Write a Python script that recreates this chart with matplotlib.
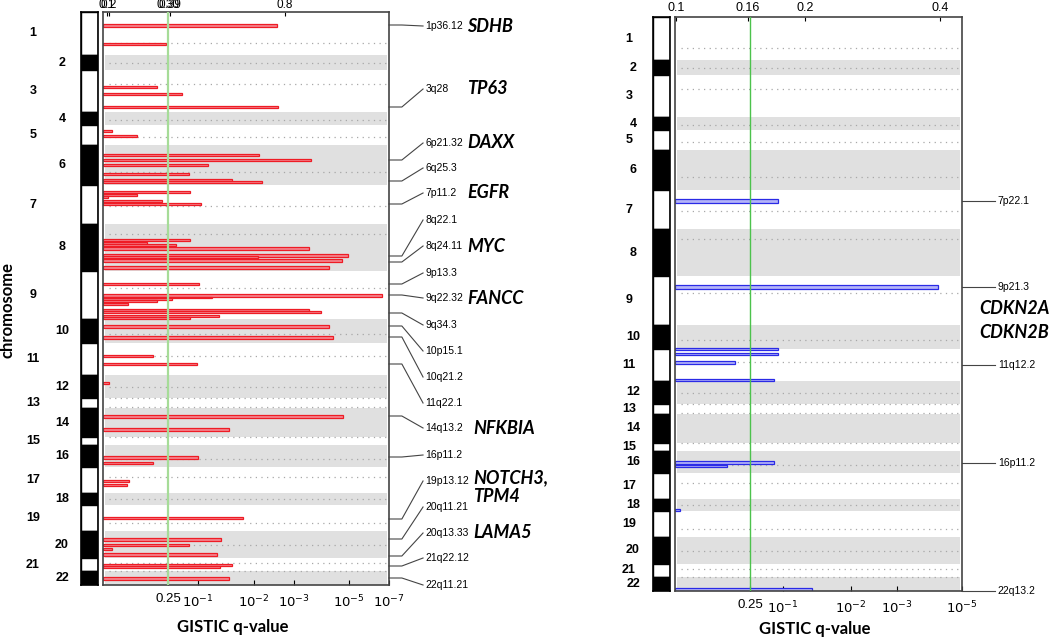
import matplotlib
matplotlib.use('Agg')
import matplotlib.pyplot as plt
from matplotlib.transforms import blended_transform_factory

# chromosome layout (genome units, 0 = top of the panel)
chrom_names = [str(i) for i in range(1, 23)]
chrom_start = [0, 43, 58, 100, 113, 133, 173, 212, 259, 307, 331,
               363, 386, 396, 425, 433, 455, 481, 493, 519, 546, 559]
genome_end = 573
centromeres = [31, 51, 72, 108, 125, 160, 194, 222, 276, 322, 344,
               375, 386, 395, 425, 447, 465, 487, 511, 533, 551, 559]

# amplification peaks (left panel): position, score (axis fraction), thickness
amp_pos = [13, 32, 75, 82, 95, 119, 124, 143, 148, 153, 162, 168, 170,
           180, 183, 185, 189, 192, 228, 231, 233, 236, 243, 245, 248, 255,
           272, 283, 285, 287, 289, 292, 298, 300, 304, 306, 314, 325,
           344, 352, 371, 404, 417, 445, 451, 469, 473, 506, 527, 533,
           537, 542, 553, 555, 566]
amp_score = [0.608, 0.22, 0.189, 0.276, 0.612, 0.031, 0.119, 0.545, 0.727,
             0.367, 0.30, 0.451, 0.556, 0.304, 0.119, 0.017, 0.206, 0.342,
             0.304, 0.154, 0.255, 0.72, 0.857, 0.542, 0.836, 0.79, 0.336,
             0.975, 0.38, 0.241, 0.19, 0.087, 0.72, 0.762, 0.406, 0.304,
             0.79, 0.804, 0.175, 0.329, 0.021, 0.839, 0.441, 0.332, 0.175,
             0.091, 0.084, 0.49, 0.413, 0.30, 0.031, 0.399, 0.451, 0.41,
             0.441]
amp_width = [3, 2, 2, 2.5, 2.5, 2, 1.5, 2.5, 2.5, 2.5, 2.5, 2.5, 1.5,
             2, 2, 2, 2, 2, 2, 2, 1.5, 3, 3, 2, 3, 3,
             2, 3, 1, 2, 1.5, 2.5, 1.5, 1.5, 1.5, 2, 3, 3,
             2.5, 2, 2, 3, 3, 3, 2.5, 2, 2, 2.5, 3, 2.5,
             2, 3, 2.5, 2, 3]

amp_bands = ['1p36.12', '3q28', '6p21.32', '6q25.3', '7p11.2', '8q22.1',
             '8q24.11', '9p13.3', '9q22.32', '9q34.3', '10p15.1', '10q21.2',
             '11q22.1', '14q13.2', '16p11.2', '19p13.12', '20q11.21',
             '20q13.33', '21q22.12', '22q11.21']
amp_band_anchor = [13, 95, 148, 169, 192, 244, 250, 272, 283, 301, 314,
                   325, 352, 404, 445, 507, 527, 544, 554, 566]
amp_band_text_y = [14, 77, 131, 156, 181, 208, 234, 261, 286, 313, 339,
                   365, 391, 416, 443, 469, 495, 521, 546, 573]
amp_genes = ['SDHB', 'TP63', 'DAXX', 'EGFR', 'MYC', 'FANCC',
             'NFKBIA', 'NOTCH3,', 'TPM4', 'LAMA5']
amp_gene_y = [14, 77, 131, 181, 234, 286, 416, 466, 484, 521]
amp_gene_x = [1.273, 1.273, 1.273, 1.273, 1.273, 1.273,
              1.294, 1.294, 1.294, 1.294]

amp_top_ticks = [0.014, 0.02, 0.228, 0.234, 0.636]
amp_top_labels = ['0.1', '0.2', '0.30', '0.39', '0.8']
amp_q_ticks = [0.227, 0.332, 0.528, 0.668, 0.86, 1.0]
amp_q_labels = ['0.25', '$10^{-1}$', '$10^{-2}$', '$10^{-3}$',
                '$10^{-5}$', '$10^{-7}$']
amp_threshold = 0.227

# deletion peaks (right panel)
del_pos = [184, 270, 331, 336, 345, 362, 445, 448, 492, 572]
del_score = [0.359, 0.916, 0.359, 0.359, 0.209, 0.345, 0.345, 0.181,
             0.017, 0.477]
del_width = [4, 4, 2, 2, 3, 2, 3, 2, 1.5, 3]

del_bands = ['7p22.1', '9p21.3', '11q12.2', '16p11.2', '22q13.2']
del_band_y = [184, 270, 347, 445, 573]
del_genes = ['CDKN2A', 'CDKN2B']
del_gene_y = [291, 315]

del_top_ticks = [0.003, 0.255, 0.453, 0.923]
del_top_labels = ['0.1', '0.16', '0.2', '0.4']
del_q_ticks = [0.261, 0.376, 0.613, 0.774, 1.0]
del_q_labels = ['0.25', '$10^{-1}$', '$10^{-2}$', '$10^{-3}$', '$10^{-5}$']
del_threshold = 0.261

plt.rcParams['font.family'] = ['Liberation Sans', 'DejaVu Sans']


def draw_ideogram(ax, label_cols):
    ends = chrom_start[1:] + [genome_end]
    for i, (s, e) in enumerate(zip(chrom_start, ends)):
        ax.bar(0.5, e - s, bottom=s, width=1.0,
               color='black' if i % 2 else 'white', edgecolor='black', lw=1)
        col = label_cols[i % 2]
        ax.text(col, (s + e) / 2, chrom_names[i], transform=ax.get_yaxis_transform(),
                ha='center', va='center', fontsize=9, fontweight='bold')
    ax.set_xlim(0, 1)
    ax.set_ylim(genome_end, 0)
    ax.set_xticks([])
    ax.set_yticks([])
    for sp in ax.spines.values():
        sp.set_linewidth(1.2)


def draw_panel(ax, pos, score, width, edge, fill, thr, thr_color, thr_lw):
    ends = chrom_start[1:] + [genome_end]
    # grey bands on even chromosomes
    for i, (s, e) in enumerate(zip(chrom_start, ends)):
        if i % 2:
            ax.axhspan(s, e, xmin=0.008, xmax=0.992, color='#e0e0e0', lw=0, zorder=0)
    for c in centromeres:
        ax.axhline(c, xmin=0.02, xmax=0.99, color='#a8a8a8', lw=0.9,
                   linestyle=(0, (1, 3.5)), zorder=1)
    ax.barh(pos, score, height=width, left=0, color=fill, edgecolor=edge,
            linewidth=0.9, zorder=2)
    ax.axvline(thr, color=thr_color, lw=thr_lw, zorder=3)
    ax.set_xlim(0, 1)
    ax.set_ylim(genome_end, 0)
    ax.set_yticks([])
    for sp in ax.spines.values():
        sp.set_color('#444444')
        sp.set_linewidth(1.2)


def set_ticks(ax, top_ticks, top_labels, q_ticks, q_labels, top_size, top_pad):
    ax.set_xticks(q_ticks, q_labels)
    ax.tick_params(axis='x', direction='in', length=3.5, width=0.8,
                   labelsize=9.5, pad=6)
    top = ax.secondary_xaxis('top')
    top.set_xticks(top_ticks, top_labels)
    top.tick_params(direction='in', length=3, width=0.8, labelsize=top_size,
                    pad=top_pad)
    top.spines['top'].set_visible(False)


def main():
    fig = plt.figure(figsize=(10.5, 6.4), dpi=100)

    # 1) amplifications (left)
    ideo_l = fig.add_axes([81 / 1050, 55 / 640, 17 / 1050, 573 / 640])
    ax_l = fig.add_axes([103 / 1050, 55 / 640, 286 / 1050, 573 / 640])
    draw_ideogram(ideo_l, [(33 - 81) / 17, (62 - 81) / 17])
    draw_panel(ax_l, amp_pos, amp_score, amp_width, '#ee1c25', '#f4858f',
               amp_threshold, '#a6dc98', 1.6)
    set_ticks(ax_l, amp_top_ticks, amp_top_labels, amp_q_ticks, amp_q_labels,
              8.5, 0.5)

    trans = blended_transform_factory(ax_l.transAxes, ax_l.transData)
    for name, a, t in zip(amp_bands, amp_band_anchor, amp_band_text_y):
        ax_l.plot([1.0, 1.045, 1.119], [a, a, t], color='#444444', lw=0.8,
                  transform=trans, clip_on=False)
        ax_l.text(1.127, t, name, transform=trans, fontsize=7.5,
                  ha='left', va='center')
    for g, y, x in zip(amp_genes, amp_gene_y, amp_gene_x):
        ax_l.text(x, y, g, transform=trans, fontsize=13, fontweight='bold',
                  fontstyle='italic', family=['Lato', 'DejaVu Sans'],
                  ha='left', va='center')

    # 2) deletions (right)
    ideo_r = fig.add_axes([653 / 1050, 49 / 640, 17 / 1050, 574 / 640])
    ax_r = fig.add_axes([675 / 1050, 49 / 640, 287 / 1050, 574 / 640])
    draw_ideogram(ideo_r, [(629 - 653) / 17, (633 - 653) / 17])
    draw_panel(ax_r, del_pos, del_score, del_width, '#2a2ae6', '#b4b4f8',
               del_threshold, '#4cc24c', 1.0)
    set_ticks(ax_r, del_top_ticks, del_top_labels, del_q_ticks, del_q_labels,
              9, 2)

    trans = blended_transform_factory(ax_r.transAxes, ax_r.transData)
    for name, y in zip(del_bands, del_band_y):
        ax_r.plot([1.0, 1.115], [y, y], color='#444444', lw=0.8,
                  transform=trans, clip_on=False)
        ax_r.text(1.125, y, name, transform=trans, fontsize=7.5,
                  ha='left', va='center')
    for g, y in zip(del_genes, del_gene_y):
        ax_r.text(1.059, y, g, transform=trans, fontsize=13, fontweight='bold',
                  fontstyle='italic', family=['Lato', 'DejaVu Sans'],
                  ha='left', va='center')

    # 3) axis titles
    fig.text(8 / 1050, 1 - 310 / 640, 'chromosome', rotation=90, ha='center',
             va='center', fontsize=12, fontweight='bold',
             family=['Lato', 'DejaVu Sans'])
    fig.text(233 / 1050, 1 - 627 / 640, 'GISTIC q-value', ha='center',
             va='center', fontsize=12, fontweight='bold',
             family=['Lato', 'DejaVu Sans'])
    fig.text(815 / 1050, 1 - 629 / 640, 'GISTIC q-value', ha='center',
             va='center', fontsize=12, fontweight='bold',
             family=['Lato', 'DejaVu Sans'])

    fig.savefig('out.png', dpi=100)


if __name__ == "__main__":
    main()
